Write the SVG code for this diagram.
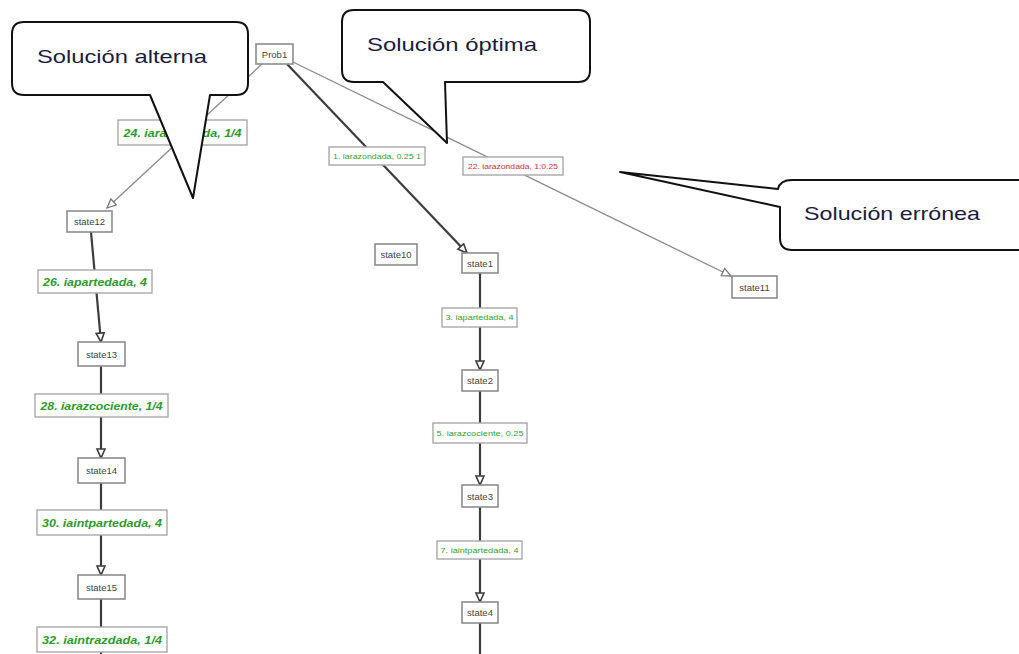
<svg xmlns="http://www.w3.org/2000/svg" width="1019" height="654" viewBox="0 0 1019 654">
  <style>
    .node rect { fill: #ffffff; stroke: #8c8c8c; stroke-width: 1.6; }
    .node text { font-family: "Liberation Sans", Arial, sans-serif; font-size: 9.5px; fill: #444; text-anchor: middle; dominant-baseline: central; }
    .lbl rect { fill: #ffffff; stroke: #a8a8a8; stroke-width: 1.4; }
    .lbl text { font-family: "Liberation Sans", Arial, sans-serif; text-anchor: middle; dominant-baseline: central; }
    .alt text { font-size: 10.5px; font-weight: bold; font-style: italic; fill: #2e9a2e; }
    .opt text { font-size: 8px; fill: #33a033; }
    .err text { font-size: 8px; fill: #d03030; }
    .edge-strong { stroke: #3c3c3c; stroke-width: 2.2; fill: none; }
    .edge-weak { stroke: #8a8a8a; stroke-width: 1.3; fill: none; }
    .callout path { fill: #ffffff; stroke: #111; stroke-width: 2; stroke-linejoin: round; }
    .callout text { font-family: "Liberation Sans", Arial, sans-serif; font-size: 19px; fill: #1c1c40; }
  </style>
  <defs>
    <marker id="arrowStrong" markerUnits="userSpaceOnUse" markerWidth="12" markerHeight="12" refX="10" refY="5" orient="auto">
      <path d="M1,1 L10,5 L1,9 Z" fill="#ffffff" stroke="#3c3c3c" stroke-width="1.6"/>
    </marker>
    <marker id="arrowWeak" markerUnits="userSpaceOnUse" markerWidth="12" markerHeight="12" refX="10" refY="5" orient="auto">
      <path d="M1,1 L10,5 L1,9 Z" fill="#ffffff" stroke="#777" stroke-width="1.3"/>
    </marker>
  </defs>
  <rect width="1019" height="654" fill="#ffffff"/>

  <!-- connectors -->
  <g id="connectors">
    <line class="edge-weak" x1="262" y1="64" x2="107" y2="208" marker-end="url(#arrowWeak)"/>
    <line class="edge-strong" x1="287" y1="64" x2="467" y2="253" marker-end="url(#arrowStrong)"/>
    <line class="edge-weak" x1="293" y1="62" x2="731" y2="276" marker-end="url(#arrowWeak)"/>
    <line class="edge-strong" x1="91" y1="232" x2="101" y2="342" marker-end="url(#arrowStrong)"/>
    <line class="edge-strong" x1="101" y1="366" x2="101" y2="458" marker-end="url(#arrowStrong)"/>
    <line class="edge-strong" x1="101" y1="483" x2="101" y2="575" marker-end="url(#arrowStrong)"/>
    <line class="edge-strong" x1="101" y1="599" x2="101" y2="654"/>
    <line class="edge-strong" x1="480" y1="273" x2="480" y2="370" marker-end="url(#arrowStrong)"/>
    <line class="edge-strong" x1="480" y1="391" x2="480" y2="485" marker-end="url(#arrowStrong)"/>
    <line class="edge-strong" x1="480" y1="507" x2="480" y2="602" marker-end="url(#arrowStrong)"/>
    <line class="edge-strong" x1="480" y1="623" x2="480" y2="654"/>
  </g>

  <!-- edge labels -->
  <g id="label-24" class="lbl alt"><rect x="118" y="120" width="129" height="25"/><text x="182.5" y="132.5" textLength="118" lengthAdjust="spacingAndGlyphs">24. iarazondada, 1/4</text></g>
  <g id="label-26" class="lbl alt"><rect x="38" y="270" width="114" height="23"/><text x="95" y="281.5" textLength="104" lengthAdjust="spacingAndGlyphs">26. iapartedada, 4</text></g>
  <g id="label-28" class="lbl alt"><rect x="35" y="394" width="133" height="23"/><text x="101.5" y="405.5" textLength="122" lengthAdjust="spacingAndGlyphs">28. iarazcociente, 1/4</text></g>
  <g id="label-30" class="lbl alt"><rect x="37" y="510" width="130" height="25"/><text x="102" y="522.5" textLength="120" lengthAdjust="spacingAndGlyphs">30. iaintpartedada, 4</text></g>
  <g id="label-32" class="lbl alt"><rect x="37" y="627" width="130" height="25"/><text x="102" y="639.5" textLength="120" lengthAdjust="spacingAndGlyphs">32. iaintrazdada, 1/4</text></g>
  <g id="label-1" class="lbl opt"><rect x="329" y="147" width="96" height="18"/><text x="377" y="156" textLength="88" lengthAdjust="spacingAndGlyphs">1. iarazondada, 0.25 1</text></g>
  <g id="label-22" class="lbl err"><rect x="463" y="157" width="100" height="18"/><text x="513" y="166" textLength="90" lengthAdjust="spacingAndGlyphs">22. iarazondada, 1:0.25</text></g>
  <g id="label-3" class="lbl opt"><rect x="442" y="308" width="75" height="19"/><text x="479.5" y="317.5" textLength="68" lengthAdjust="spacingAndGlyphs">3. iapartedada, 4</text></g>
  <g id="label-5" class="lbl opt"><rect x="433" y="423" width="94" height="20"/><text x="480" y="433" textLength="87" lengthAdjust="spacingAndGlyphs">5. iarazcociente, 0.25</text></g>
  <g id="label-7" class="lbl opt"><rect x="437" y="541" width="85" height="18"/><text x="479.5" y="550" textLength="78" lengthAdjust="spacingAndGlyphs">7. iaintpartedada, 4</text></g>

  <!-- state nodes -->
  <g id="prob1" class="node"><rect x="256" y="44" width="37" height="20"/><text x="274.5" y="54">Prob1</text></g>
  <g id="state12" class="node"><rect x="67" y="211" width="45" height="21"/><text x="89.5" y="221.5">state12</text></g>
  <g id="state13" class="node"><rect x="78" y="342" width="47" height="24"/><text x="101.5" y="354">state13</text></g>
  <g id="state14" class="node"><rect x="78" y="458" width="47" height="25"/><text x="101.5" y="470.5">state14</text></g>
  <g id="state15" class="node"><rect x="78" y="575" width="47" height="24"/><text x="101.5" y="587">state15</text></g>
  <g id="state10" class="node"><rect x="375" y="244" width="42" height="21"/><text x="396" y="254.5">state10</text></g>
  <g id="state1" class="node"><rect x="462" y="253" width="36" height="20"/><text x="480" y="263">state1</text></g>
  <g id="state2" class="node"><rect x="462" y="370" width="36" height="21"/><text x="480" y="380.5">state2</text></g>
  <g id="state3" class="node"><rect x="462" y="485" width="36" height="22"/><text x="480" y="496">state3</text></g>
  <g id="state4" class="node"><rect x="462" y="602" width="36" height="21"/><text x="480" y="612.5">state4</text></g>
  <g id="state11" class="node"><rect x="732" y="276" width="45" height="22"/><text x="754.5" y="287">state11</text></g>

  <!-- callouts -->
  <g id="callout-alterna" class="callout">
    <path d="M24,22 H236 Q248,22 248,34 V83 Q248,95 236,95 H210 L193,198 L150,95 H24 Q12,95 12,83 V34 Q12,22 24,22 Z"/>
    <text x="37" y="63" textLength="170" lengthAdjust="spacingAndGlyphs">Solución alterna</text>
  </g>
  <g id="callout-optima" class="callout">
    <path d="M354,10 H578 Q590,10 590,22 V70 Q590,82 578,82 H445 L447,143 L383,82 H354 Q342,82 342,70 V22 Q342,10 354,10 Z"/>
    <text x="367" y="51" textLength="170" lengthAdjust="spacingAndGlyphs">Solución óptima</text>
  </g>
  <g id="callout-erronea" class="callout">
    <path d="M620,172 L778,189 Q780,180 792,180 H1030 V250 H792 Q780,250 780,238 V207 Z"/>
    <text x="804" y="220" textLength="176" lengthAdjust="spacingAndGlyphs">Solución errónea</text>
  </g>
</svg>
